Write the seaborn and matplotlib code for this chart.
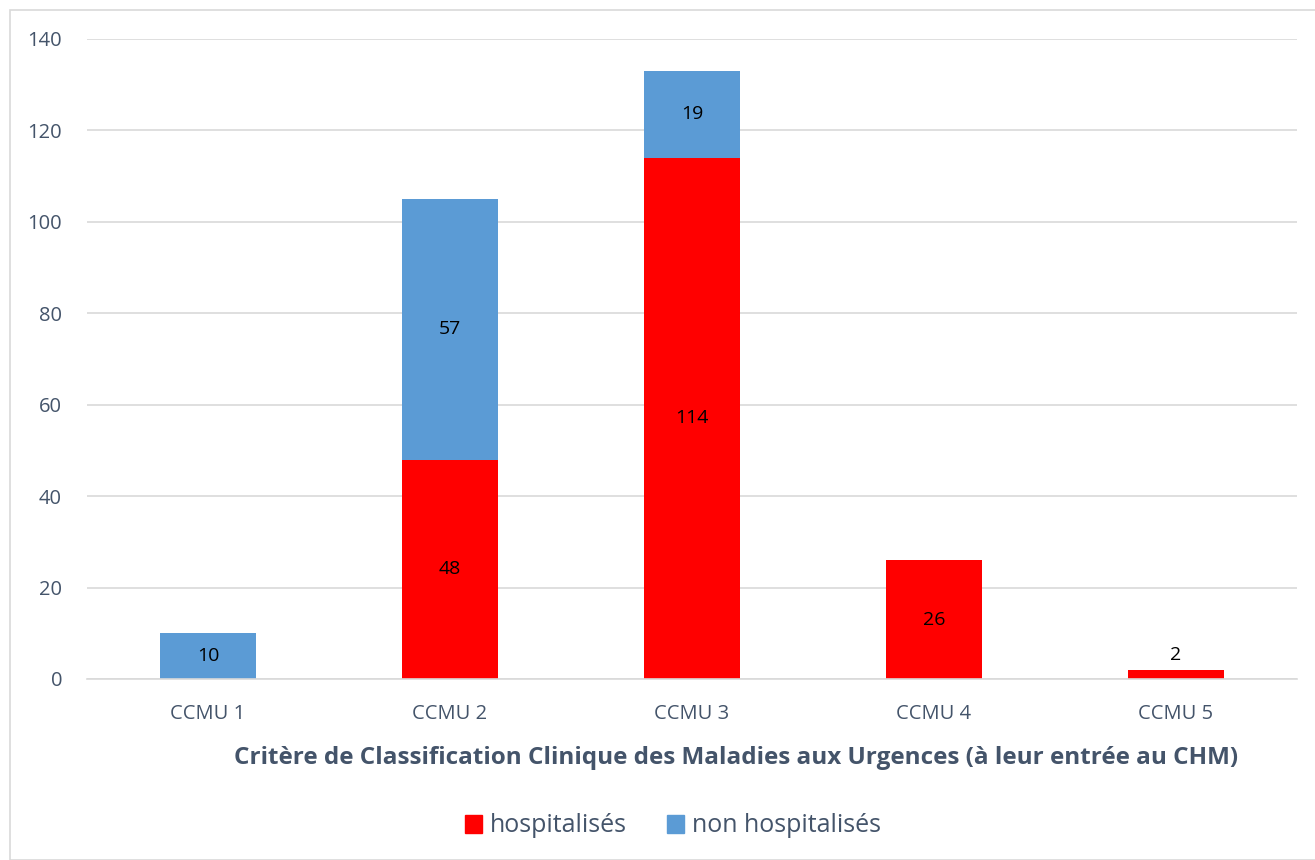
import matplotlib
matplotlib.use("Agg")
import matplotlib.pyplot as plt
import pandas as pd
import seaborn as sns
from matplotlib.patches import Rectangle, Patch

categories = ["CCMU 1", "CCMU 2", "CCMU 3", "CCMU 4", "CCMU 5"]
hospitalises = [0, 48, 114, 26, 2]
non_hospitalises = [10, 57, 19, 0, 0]

df = pd.DataFrame({
    "ccmu": categories,
    "hosp": hospitalises,
    "non_hosp": non_hospitalises,
})

sns.set_theme(style="white")
plt.rcParams["font.family"] = ["Open Sans", "DejaVu Sans"]

text_color = "#44546A"
red = "#FF0000"
blue = "#5B9BD5"
grid_color = "#D9D9D9"

fig = plt.figure(figsize=(13.15, 8.6), dpi=100)
ax = fig.add_axes([87 / 1315, 1 - 679 / 860, (1297 - 87) / 1315, (679 - 39) / 860])

sns.barplot(x="ccmu", y="hosp", data=df, color=red, width=0.4,
            saturation=1, linewidth=0, ax=ax)
sns.barplot(x="ccmu", y="non_hosp", data=df, color=blue, width=0.4,
            saturation=1, linewidth=0, bottom=df["hosp"], ax=ax)

# data labels
for cont, vals in zip(ax.containers, [hospitalises, non_hospitalises]):
    centre = [str(v) if v >= 5 else "" for v in vals]
    edge = [str(v) if 0 < v < 5 else "" for v in vals]
    ax.bar_label(cont, labels=centre, label_type="center", fontsize=14, color="black")
    ax.bar_label(cont, labels=edge, label_type="edge", padding=4, fontsize=14, color="black")

ax.set_ylim(0, 140)
ax.set_xlim(-0.5, 4.5)
ax.set_yticks(range(0, 141, 20))
ax.yaxis.grid(True, color=grid_color, linewidth=1.2)
ax.set_axisbelow(True)
for side in ["top", "right", "left"]:
    ax.spines[side].set_visible(False)
ax.spines["bottom"].set_color(grid_color)
ax.spines["bottom"].set_linewidth(1.2)

ax.set_xticks([i - 0.5 for i in range(6)], minor=True)
ax.tick_params(axis="x", which="minor", length=7, width=1.2, color=grid_color, direction="out")
ax.tick_params(axis="x", which="major", length=0, pad=18, labelsize=14.5, labelcolor=text_color)
ax.tick_params(axis="y", length=0, pad=18, labelsize=14.5, labelcolor=text_color)
ax.set_xlabel("")
ax.set_ylabel("")

fig.text(736 / 1315, 1 - 758 / 860,
         "Critère de Classification Clinique des Maladies aux Urgences (à leur entrée au CHM)",
         ha="center", va="center", fontsize=17.5, fontweight="bold", color=text_color)

handles = [Patch(color=red, label="hospitalisés"), Patch(color=blue, label="non hospitalisés")]
fig.legend(handles=handles, loc="center", bbox_to_anchor=(673 / 1315, 1 - 826 / 860),
           ncol=2, frameon=False, fontsize=18, handlelength=0.7, handleheight=0.7,
           handletextpad=0.3, columnspacing=1.6, labelcolor=text_color)

fig.patches.append(Rectangle((10 / 1315, 0), 1, 1 - 10 / 860, transform=fig.transFigure,
                             fill=False, edgecolor=grid_color, linewidth=1.2))

fig.savefig("out.png", dpi=100)
